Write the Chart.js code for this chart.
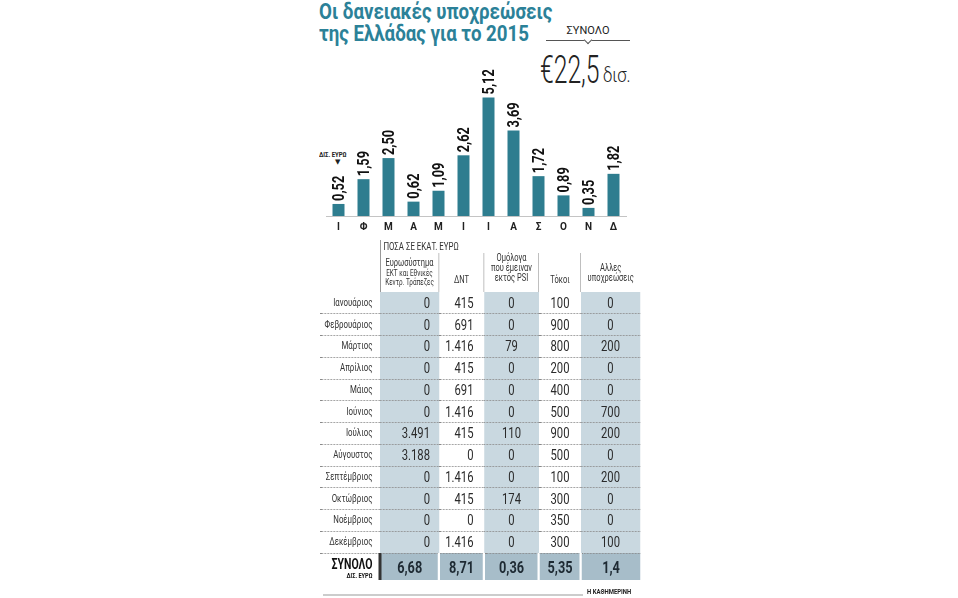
<!DOCTYPE html>
<html lang="el">
<head>
  <meta charset="UTF-8" />
  <title>Οι δανειακές υποχρεώσεις της Ελλάδας για το 2015</title>
  <script src="https://cdn.jsdelivr.net/npm/chart.js"></script>
  <style>
    body {
      margin: 0;
      width: 958px;
      height: 598px;
      background: #fff;
      position: relative;
      overflow: hidden;
      font-family: Roboto, "DejaVu Sans", sans-serif;
      color: #222;
    }
    .title {
      position: absolute;
      left: 319px;
      color: #2b8198;
      font-weight: bold;
      font-size: 21.5px;
      line-height: 22px;
      white-space: nowrap;
      transform: scaleX(0.87);
      transform-origin: 0 0;
    }
    .synolo-lbl {
      position: absolute;
      left: 540px;
      top: 24px;
      width: 96px;
      text-align: center;
      font-size: 11px;
    }
    .synolo-line {
      position: absolute;
      left: 546px;
      top: 40px;
      width: 84px;
      border-top: 1px solid #555;
    }
    .notch {
      position: absolute;
      left: 585px;
      top: 37px;
      width: 5px;
      height: 5px;
      background: #fff;
      border-right: 1px solid #555;
      border-bottom: 1px solid #555;
      transform: rotate(45deg);
    }
    .big {
      position: absolute;
      left: 540px;
      top: 51px;
      font-size: 38px;
      font-weight: 300;
      line-height: 38px;
      white-space: nowrap;
      transform: scaleX(0.65);
      transform-origin: 0 0;
    }
    .bn {
      position: absolute;
      left: 603px;
      top: 65px;
      font-size: 21px;
      font-weight: 300;
      line-height: 21px;
      transform: scaleX(0.8);
      transform-origin: 0 0;
    }
    .unit {
      position: absolute;
      left: 319px;
      top: 151px;
      font-size: 7px;
      font-weight: bold;
      transform: scaleX(0.85);
      transform-origin: 0 0;
    }
    .arrow {
      position: absolute;
      left: 335px;
      top: 158px;
      font-size: 7px;
    }
    #chartBox {
      position: absolute;
      left: 316px;
      top: 60px;
      width: 320px;
      height: 182px;
    }
    .tblWrap {
      position: absolute;
      left: 320px;
      top: 240px;
      transform: scaleX(0.75);
      transform-origin: 0 0;
    }
    table {
      border-collapse: collapse;
      table-layout: fixed;
    }
    td, th { padding: 0; }
    th {
      font-weight: normal;
      vertical-align: bottom;
      text-align: center;
      font-size: 10px;
      line-height: 10px;
      padding-bottom: 7px;
      border-left: 1px solid #aaa;
      color: #333;
    }
    th.lead { border-left: none; }
    th .sm { font-size: 8.5px; line-height: 9px; margin-top: 1px; }
    th.head-top {
      text-align: left;
      vertical-align: middle;
      font-size: 10.5px;
      padding: 0 0 0 4px;
      border-left: 1px solid #777;
    }
    tbody tr { height: 21.75px; }
    tbody td {
      font-size: 15px;
      line-height: 14px;
      border-top: 1px dotted #888;
      text-align: center;
      color: #2a2a2a;
    }
    tbody tr:first-child td { border-top: none; }
    tbody td.lbl {
      text-align: right;
      font-size: 10.5px;
      padding-right: 10px;
      color: #333;
    }
    td.shade { background: #c9d8e0; }
    td.r1 { text-align: right; padding-right: 12px; }
    td.r2 { text-align: right; padding-right: 14px; }
    tr.total { height: 27px; }
    tr.total td {
      background: #a7bdc9;
      font-size: 17px;
      font-weight: bold;
      border-left: 3px solid #fff;
      color: #1e2a33;
    }
    tr.total td.lbl {
      background: #fff;
      border-left: none;
      color: #111;
      font-size: 14px;
      line-height: 14px;
      padding-right: 8px;
      vertical-align: top;
      padding-top: 3px;
    }
    tr.total td.first { border-left: 4px solid #333; }
    tr.total td.lbl span { font-size: 7.5px; display: block; line-height: 8px; margin-top: 1px; font-weight: bold; }
    .footer-line {
      position: absolute;
      left: 323px;
      top: 594px;
      width: 260px;
      border-top: 2px solid #ccc;
    }
    .source {
      position: absolute;
      left: 587px;
      top: 588px;
      font-size: 7px;
      font-weight: bold;
      white-space: nowrap;
      transform: scaleX(0.85);
      transform-origin: 0 0;
    }
  </style>
</head>
<body>
  <div class="title" style="top:1px">Οι δανειακές υποχρεώσεις</div>
  <div class="title" style="top:23px">της Ελλάδας για το 2015</div>
  <div class="synolo-lbl">ΣΥΝΟΛΟ</div>
  <div class="synolo-line"></div>
  <div class="notch"></div>
  <div class="big">€22,5</div>
  <div class="bn">δισ.</div>
  <div class="unit">ΔΙΣ. ΕΥΡΩ</div>
  <div class="arrow">▼</div>
  <div id="chartBox"><canvas id="bars"></canvas></div>
  <div class="tblWrap"><table id="tbl"></table></div>
  <div class="footer-line"></div>
  <div class="source">Η ΚΑΘΗΜΕΡΙΝΗ</div>

  <script>
    // initials of the months (x axis) and monthly totals, δισ. ευρώ
    const months = ["Ι", "Φ", "Μ", "Α", "Μ", "Ι", "Ι", "Α", "Σ", "Ο", "Ν", "Δ"];
    const monthTotals = [0.52, 1.59, 2.50, 0.62, 1.09, 2.62, 5.12, 3.69, 1.72, 0.89, 0.35, 1.82];

    // table, εκατ. ευρώ
    const monthNames = ["Ιανουάριος", "Φεβρουάριος", "Μάρτιος", "Απρίλιος", "Μάιος", "Ιούνιος",
      "Ιούλιος", "Αύγουστος", "Σεπτέμβριος", "Οκτώβριος", "Νοέμβριος", "Δεκέμβριος"];
    const eurosystem = [0, 0, 0, 0, 0, 0, 3491, 3188, 0, 0, 0, 0];
    const imf = [415, 691, 1416, 415, 691, 1416, 415, 0, 1416, 415, 0, 1416];
    const bondsOutsidePSI = [0, 0, 79, 0, 0, 0, 110, 0, 0, 174, 0, 0];
    const interest = [100, 900, 800, 200, 400, 500, 900, 500, 100, 300, 350, 300];
    const otherObligations = [0, 0, 200, 0, 0, 700, 200, 0, 200, 0, 0, 100];
    const columnTotals = ["6,68", "8,71", "0,36", "5,35", "1,4"];

    const teal = "#2e7d8f";

    function fmtInt(n) {
      return String(n).replace(/\B(?=(\d{3})+(?!\d))/g, ".");
    }
    function fmtDec(n) {
      return n.toFixed(2).replace(".", ",");
    }

    // --- table (drawn 4/3 wider, then squeezed by the wrapper) ---
    const tbl = document.getElementById("tbl");
    const widths = [80, 78.7, 60, 73.3, 56, 78.7];
    let html = "<colgroup>" + widths.map(w => `<col style="width:${w}px">`).join("") + "</colgroup>";
    html += `<thead>
      <tr style="height:13px"><th class="lead"></th><th class="head-top" colspan="5">ΠΟΣΑ ΣΕ ΕΚΑΤ. ΕΥΡΩ</th></tr>
      <tr style="height:38px">
        <th class="lead"></th>
        <th style="border-left:1px solid #777;padding-bottom:5px">Ευρωσύστημα<div class="sm">ΕΚΤ και Εθνικές<br>Κεντρ. Τράπεζες</div></th>
        <th>ΔΝΤ</th>
        <th style="padding-bottom:9px">Ομόλογα<br>που έμειναν<br>εκτός PSI</th>
        <th>Τόκοι</th>
        <th style="padding-bottom:9px">Αλλες<br>υποχρεώσεις</th>
      </tr></thead><tbody>`;
    monthNames.forEach((m, i) => {
      html += `<tr>
        <td class="lbl">${m}</td>
        <td class="shade r1">${fmtInt(eurosystem[i])}</td>
        <td class="r2">${fmtInt(imf[i])}</td>
        <td class="shade">${fmtInt(bondsOutsidePSI[i])}</td>
        <td>${fmtInt(interest[i])}</td>
        <td class="shade">${fmtInt(otherObligations[i])}</td>
      </tr>`;
    });
    html += `<tr class="total"><td class="lbl">ΣΥΝΟΛΟ<span>ΔΙΣ. ΕΥΡΩ</span></td>` +
      columnTotals.map((t, i) => `<td class="${i === 0 ? "first" : ""}">${t}</td>`).join("") + "</tr></tbody>";
    tbl.innerHTML = html;

    // --- bar chart ---
    const valueLabels = {
      id: "valueLabels",
      afterDatasetsDraw(chart) {
        const ctx = chart.ctx;
        const meta = chart.getDatasetMeta(0);
        ctx.save();
        ctx.fillStyle = "#111";
        ctx.font = "bold 16px Roboto, 'DejaVu Sans', sans-serif";
        ctx.textAlign = "left";
        ctx.textBaseline = "middle";
        meta.data.forEach((bar, i) => {
          ctx.save();
          ctx.translate(bar.x + 1, bar.y - 3);
          ctx.rotate(-Math.PI / 2);
          ctx.scale(0.8, 1);
          ctx.fillText(fmtDec(monthTotals[i]), 0, 0);
          ctx.restore();
        });
        ctx.restore();
      }
    };

    new Chart(document.getElementById("bars"), {
      type: "bar",
      data: {
        labels: months,
        datasets: [{
          data: monthTotals,
          backgroundColor: teal,
          barPercentage: 0.48,
          categoryPercentage: 1
        }]
      },
      options: {
        responsive: true,
        maintainAspectRatio: false,
        animation: false,
        layout: { padding: { left: 10, right: 10, top: 17, bottom: 4 } },
        plugins: { legend: { display: false }, tooltip: { enabled: false } },
        scales: {
          y: { display: false, min: 0, max: 6 },
          x: {
            grid: { display: false, drawTicks: false },
            border: { display: true, color: "#c4c4c4", width: 1 },
            ticks: {
              color: "#222",
              padding: 5,
              font: { size: 10, weight: "bold", family: "Roboto, 'DejaVu Sans', sans-serif" }
            }
          }
        }
      },
      plugins: [valueLabels]
    });
  </script>
</body>
</html>
